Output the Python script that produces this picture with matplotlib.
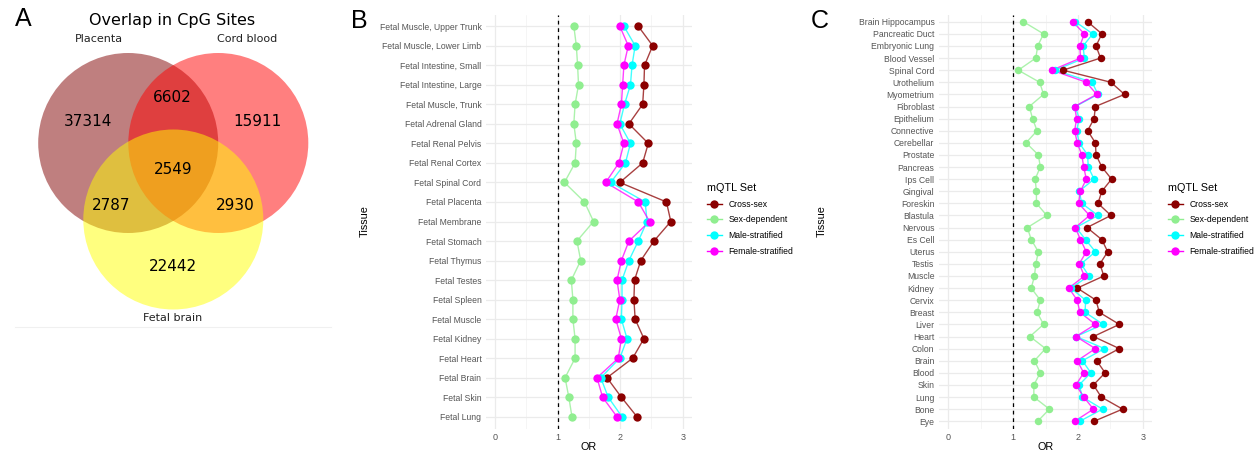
import numpy as np
import matplotlib
matplotlib.use("Agg")
import matplotlib.pyplot as plt
from matplotlib.patches import Circle
from matplotlib.lines import Line2D

# ---------------- data ----------------
venn_sets = ["Placenta", "Cord blood", "Fetal brain"]
venn_counts = {"100": 37314, "010": 15911, "001": 22442,
               "110": 6602, "101": 2787, "011": 2930, "111": 2549}

series_names = ["Cross-sex", "Sex-dependent", "Male-stratified", "Female-stratified"]
series_colors = ["#8B0000", "#90EE90", "#00FFFF", "#FF00FF"]

fetal_tissues = ["Fetal Muscle, Upper Trunk", "Fetal Muscle, Lower Limb", "Fetal Intestine, Small",
                 "Fetal Intestine, Large", "Fetal Muscle, Trunk", "Fetal Adrenal Gland",
                 "Fetal Renal Pelvis", "Fetal Renal Cortex", "Fetal Spinal Cord", "Fetal Placenta",
                 "Fetal Membrane", "Fetal Stomach", "Fetal Thymus", "Fetal Testes", "Fetal Spleen",
                 "Fetal Muscle", "Fetal Kidney", "Fetal Heart", "Fetal Brain", "Fetal Skin", "Fetal Lung"]
fetal_cross = [2.29, 2.52, 2.39, 2.38, 2.36, 2.14, 2.45, 2.36, 1.995, 2.74, 2.81,
               2.54, 2.33, 2.23, 2.22, 2.24, 2.38, 2.20, 1.79, 2.02, 2.27]
fetal_sexdep = [1.26, 1.30, 1.32, 1.335, 1.28, 1.26, 1.30, 1.28, 1.11, 1.43, 1.575,
                1.31, 1.37, 1.22, 1.245, 1.245, 1.28, 1.28, 1.12, 1.18, 1.23]
fetal_male = [2.06, 2.24, 2.19, 2.165, 2.07, 1.995, 2.165, 2.085, 1.85, 2.40, 2.43,
              2.29, 2.14, 2.03, 2.03, 2.02, 2.11, 1.995, 1.69, 1.81, 2.03]
fetal_female = [1.995, 2.13, 2.06, 2.04, 2.02, 1.95, 2.06, 1.98, 1.77, 2.29, 2.47,
                2.14, 2.02, 1.95, 1.995, 1.93, 2.02, 1.97, 1.63, 1.72, 1.95]

adult_tissues = ["Brain Hippocampus", "Pancreatic Duct", "Embryonic Lung", "Blood Vessel",
                 "Spinal Cord", "Urothelium", "Myometrium", "Fibroblast", "Epithelium",
                 "Connective", "Cerebellar", "Prostate", "Pancreas", "Ips Cell", "Gingival",
                 "Foreskin", "Blastula", "Nervous", "Es Cell", "Uterus", "Testis", "Muscle",
                 "Kidney", "Cervix", "Breast", "Liver", "Heart", "Colon", "Brain", "Blood",
                 "Skin", "Lung", "Bone", "Eye"]
adult_cross = [2.15, 2.37, 2.28, 2.35, 1.77, 2.51, 2.72, 2.27, 2.25, 2.15, 2.27, 2.28,
               2.37, 2.52, 2.37, 2.31, 2.51, 2.14, 2.37, 2.46, 2.34, 2.40, 1.99, 2.28,
               2.33, 2.64, 2.24, 2.64, 2.29, 2.42, 2.24, 2.36, 2.69, 2.25]
adult_sexdep = [1.16, 1.47, 1.38, 1.35, 1.08, 1.41, 1.47, 1.25, 1.30, 1.37, 1.20, 1.39,
                1.42, 1.34, 1.36, 1.36, 1.52, 1.22, 1.28, 1.39, 1.35, 1.33, 1.28, 1.42,
                1.37, 1.47, 1.26, 1.50, 1.33, 1.42, 1.32, 1.32, 1.56, 1.38]
adult_male = [1.96, 2.23, 2.08, 2.10, 1.65, 2.22, 2.31, 1.96, 2.02, 1.98, 2.02, 2.15,
              2.16, 2.25, 2.02, 2.06, 2.31, 1.97, 2.12, 2.27, 2.05, 2.17, 1.89, 2.12,
              2.11, 2.39, 1.97, 2.41, 2.07, 2.20, 2.02, 2.07, 2.38, 2.03]
adult_female = [1.92, 2.10, 2.03, 2.04, 1.60, 2.13, 2.29, 1.95, 1.98, 1.95, 1.99, 2.06,
                2.09, 2.13, 2.04, 2.01, 2.18, 1.96, 2.04, 2.13, 2.02, 2.10, 1.86, 1.99,
                2.03, 2.27, 1.97, 2.27, 1.99, 2.09, 1.97, 2.09, 2.24, 1.95]

x_ticks = [0, 1, 2, 3]

# ---------------- layout helpers ----------------
W, H = 1260, 455
fig = plt.figure(figsize=(W / 100, H / 100), dpi=100)


def rect(l, t, r, b):
    return [l / W, 1 - b / H, (r - l) / W, (b - t) / H]


def fx(x):
    return x / W


def fy(y):
    return 1 - y / H


SANS = ["Liberation Sans", "DejaVu Sans"]

# ---------------- Panel A: Venn ----------------
axA = fig.add_axes(rect(0, 0, 350, 340))
axA.set_xlim(0, 350)
axA.set_ylim(340, 0)
axA.axis("off")
circ_specs = [((128.2, 143), "#800000"), ((218.3, 143), "#FF0000"), ((173.3, 219.5), "#FFFF00")]
for (c, col) in circ_specs:
    axA.add_patch(Circle(c, 90, facecolor=col, edgecolor="none", alpha=0.5))
axA.text(172.5, 20, "Overlap in CpG Sites", ha="center", va="center", fontsize=11.5)
axA.text(99.3, 39, venn_sets[0], ha="center", va="center", fontsize=8, color="#222222")
axA.text(246.7, 39, venn_sets[1], ha="center", va="center", fontsize=8, color="#222222")
axA.text(172.8, 318.3, venn_sets[2], ha="center", va="center", fontsize=8, color="#222222")
label_pos = {"100": (88.3, 121), "110": (172.7, 97.7), "010": (257.3, 121),
             "111": (172.7, 170), "101": (110.7, 205.7), "011": (235, 205.7),
             "001": (173.3, 266.7)}
for k, (x, y) in label_pos.items():
    axA.text(x, y, str(venn_counts[k]), ha="center", va="center", fontsize=11)
axA.plot([15, 331], [326.7, 326.7], color="#F0F0F0", lw=0.8)

# ---------------- dot plot panels ----------------
def dot_panel(box, tissues, series, ms, ylab_x):
    ax = fig.add_axes(rect(*box))
    n = len(tissues)
    y = np.arange(n)
    for vals, col in zip(series, series_colors):
        ax.plot(vals, y, color=col, lw=1.0, alpha=0.75, zorder=2, solid_capstyle="round")
    for vals, col in zip(series, series_colors):
        ax.plot(vals, y, "o", color=col, ms=ms, mew=0, zorder=3)
    ax.axvline(1, color="black", lw=0.9, ls=(0, (3, 3)), zorder=1.5)
    ax.set_xlim(-0.15, 3.15)
    ax.set_ylim(n - 1 + 0.6, -0.6)
    ax.set_yticks(y)
    ax.set_yticklabels(tissues, fontsize=6.2, color="#555555", family=SANS)
    ax.set_xticks(x_ticks)
    ax.set_xticklabels([str(t) for t in x_ticks], fontsize=6.5, color="#555555", family=SANS)
    ax.set_xticks([0.5, 1.5, 2.5], minor=True)
    ax.grid(True, which="major", color="#EBEBEB", lw=0.9, zorder=0)
    ax.grid(True, which="minor", axis="x", color="#F2F2F2", lw=0.5, zorder=0)
    ax.set_axisbelow(True)
    ax.tick_params(length=0, pad=3, which="both")
    for s in ax.spines.values():
        s.set_visible(False)
    cx = (box[0] + box[2]) / 2
    fig.text(fx(cx), fy(447), "OR", ha="center", va="center", fontsize=7.8, family=SANS)
    fig.text(fx(ylab_x), fy((box[1] + box[3]) / 2), "Tissue", ha="center", va="center",
             rotation=90, fontsize=7.8, family=SANS)
    return ax


axB = dot_panel((485.6, 14.5, 692.1, 428.5), fetal_tissues,
                [fetal_cross, fetal_sexdep, fetal_male, fetal_female], 6.0, 365)
axC = dot_panel((938.6, 14.5, 1152.4, 428.5), adult_tissues,
                [adult_cross, adult_sexdep, adult_male, adult_female], 5.4, 822)

handles = [Line2D([], [], color=c, marker="o", ms=6, mew=0, lw=1.0) for c in series_colors]
for lx in (707, 1168):
    leg = fig.legend(handles, series_names, loc="upper left", bbox_to_anchor=(fx(lx), fy(183)),
                     frameon=False, title="mQTL Set", alignment="left",
                     prop={"family": SANS, "size": 6.2},
                     title_fontproperties={"family": SANS, "size": 7.8},
                     handlelength=1.7, handletextpad=0.8, labelspacing=0.78,
                     borderpad=0, borderaxespad=0)

# panel letters
fig.text(fx(23), fy(19), "A", ha="center", va="center", fontsize=18, family=SANS)
fig.text(fx(359), fy(21), "B", ha="center", va="center", fontsize=18, family=SANS)
fig.text(fx(820), fy(21), "C", ha="center", va="center", fontsize=18, family=SANS)

fig.savefig("out.png", dpi=100)
